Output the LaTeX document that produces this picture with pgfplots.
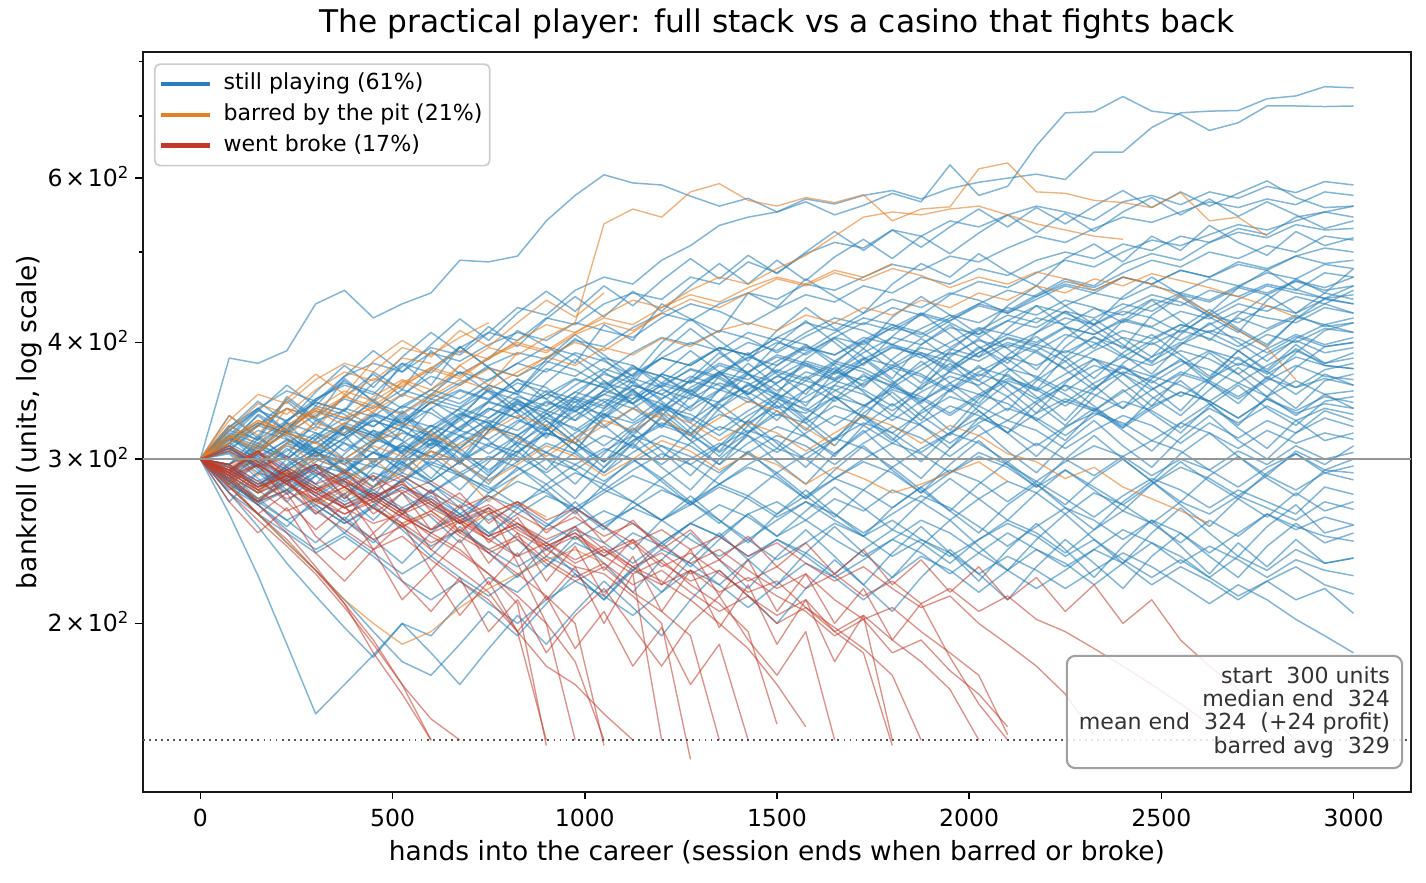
\documentclass[border=0pt]{standalone}
\usepackage{pgfplots}
\pgfplotsset{compat=1.18}
\usepackage{fontspec}
\setmainfont{DejaVu Sans}

\definecolor{cblue}{HTML}{2980B9}
\definecolor{corange}{HTML}{E67E22}
\definecolor{cred}{HTML}{C0392B}
\definecolor{boxedge}{RGB}{160,160,160}
\definecolor{legedge}{RGB}{204,204,204}
\definecolor{annot}{RGB}{51,51,51}

% one bankroll path, values every 75 hands starting at hand 0
\newcommand\walk[2]{%
  \gdef\pts{}%
  \foreach \v [count=\i from 0] in {#2}{%
    \pgfmathtruncatemacro\xx{75*\i}%
    \xdef\pts{\pts(\xx,\v)}%
  }%
  \edef\doplot{\noexpand\addplot[\unexpanded{#1}] coordinates {\pts};}%
  \doplot
}
\newcommand\tlab[1]{#1\kern0.12em×\kern0.12em10\textsuperscript{2}}

\pgfplotsset{
  bl/.style={forget plot, cblue, draw opacity=0.58, line width=0.72pt, line join=round},
  or/.style={forget plot, corange, draw opacity=0.6, line width=0.65pt, line join=round},
  rd/.style={forget plot, cred, draw opacity=0.55, line width=0.65pt, line join=round},
}

\begin{document}
\begin{tikzpicture}
\useasboundingbox (-68.5pt,-43.3pt) rectangle (616pt,380.1pt);
\begin{axis}[
  at={(0pt,0pt)}, anchor=south west,
  scale only axis, width=608.9pt, height=355.1pt,
  xmin=-150, xmax=3150,
  ymode=log, ymin=132, ymax=819,
  xtick={0,500,1000,1500,2000,2500,3000},
  ytick={200,300,400,600},
  yticklabels={\tlab{2},\tlab{3},\tlab{4},\tlab{6}},
  minor ytick={500,700,800},
  tick pos=left, tick align=outside,
  major tick length=3.5pt, minor tick length=2pt,
  every tick/.style={black, line width=0.8pt},
  axis line style={black!90, line width=0.9pt},
  tick label style={font=\fontsize{11.3}{13.5}\selectfont, /pgf/number format/assume math mode=true},
  xticklabel style={anchor=base, yshift=-13pt, /pgf/number format/1000 sep={}},
  yticklabel style={anchor=base east, inner sep=0pt, xshift=-2.7pt, yshift=-4pt},
  title={The practical player: full stack vs a casino that fights back},
  title style={at={(axis description cs:0.5,1)}, anchor=base, yshift=3.4pt, font=\fontsize{15}{18}\selectfont},
  xlabel={hands into the career (session ends when barred or broke)},
  xlabel style={at={(axis description cs:0.5,0)}, anchor=base, yshift=-32.8pt, font=\fontsize{12.7}{15}\selectfont},
  ylabel={bankroll (units, log scale)},
  ylabel style={at={(axis description cs:-0.0841,0.5)}, anchor=base, font=\fontsize{12.7}{15}\selectfont},
  legend cell align=left,
  legend image code/.code={\draw[#1] (0pt,0pt) -- (23.5pt,0pt);},
  legend style={at={(axis description cs:0,1)}, anchor=north west, xshift=5.4pt, yshift=-5.4pt,
    draw=legedge, line width=0.8pt, rounded corners=2.5pt, fill=white, fill opacity=0.8, text opacity=1,
    font=\fontsize{10.6}{12.7}\selectfont, row sep=1.4pt, inner xsep=2pt, inner ysep=3pt,
    nodes={inner sep=1.5pt, text height=7.9pt, text depth=2.4pt},
    /tikz/every odd column/.append style={column sep=4pt}},
]
\addlegendimage{cblue, line width=2pt}
\addlegendentry{still playing (61\%)}
\addlegendimage{corange, line width=2pt}
\addlegendentry{barred by the pit (21\%)}
\addlegendimage{cred, line width=2pt}
\addlegendentry{went broke (17\%)}

% ---- still playing ----
\walk{bl}{300,385,380,392,440,455,425,440,452,490,
488,495,540,575,605,593,590,574,560,571,
552,566,548,561,578,566,620,575,588,650,
705,707,734,708,702,675,688,717,717,716,717}
\walk{bl}{300,312,335,322,348,360,352,377,395,388,
410,436,428,455,470,462,490,508,534,545,
552,570,563,575,582,570,585,594,600,606,
598,640,640,680,705,708,709,730,735,752,750}
\walk{bl}{300,318,305,330,345,338,362,380,371,395,
410,402,425,418,440,452,445,470,462,488,
475,498,512,505,528,520,540,532,548,560,
552,541,566,575,562,580,571,588,579,595,590}
\walk{bl}{300,290,305,322,315,340,333,352,368,360,
378,390,384,402,396,415,430,422,440,452,
445,462,455,470,485,478,495,488,505,520,
512,530,545,538,552,566,558,570,562,580,575}
\walk{bl}{300,315,328,320,342,335,318,330,348,341,
360,352,375,368,385,378,362,380,395,388,
405,398,382,400,415,408,425,440,432,450,
468,460,485,498,490,512,530,522,545,552,560}
\walk{bl}{300,282,270,278,262,275,290,283,300,318,
310,328,345,337,355,348,370,362,385,400,
392,410,425,418,436,428,450,465,458,475,
490,482,500,515,508,522,535,528,540,552,545}
\walk{bl}{300,325,340,355,346,368,380,372,390,382,
398,410,402,420,412,405,425,440,432,418,
435,450,442,460,452,470,462,480,472,490,
500,492,510,502,520,512,525,518,535,528,530}
\walk{bl}{300,308,295,312,325,318,335,328,345,356,
348,365,358,340,355,370,385,378,395,388,
372,390,405,398,415,430,422,440,455,448,
465,458,475,490,482,500,492,508,500,520,515}
\walk{bl}{300,292,308,300,318,332,325,342,336,322,
338,355,348,365,358,375,368,352,370,385,
400,392,410,425,418,405,422,438,430,445,
460,452,470,462,478,470,488,480,495,505,500}
\walk{bl}{300,318,310,295,308,325,318,305,322,340,
332,350,342,360,375,366,385,378,395,388,
405,420,412,430,445,436,452,444,430,448,
462,455,470,462,478,470,485,478,495,486,490}
\walk{bl}{300,286,298,312,305,290,305,320,314,330,
345,338,355,348,332,348,362,355,372,386,
378,395,388,402,418,410,395,412,428,420,
438,452,445,460,452,468,460,475,468,485,480}
\walk{bl}{300,310,326,318,305,320,336,328,345,338,
322,338,352,345,362,355,340,358,372,365,
382,396,388,405,398,385,400,415,408,425,
418,435,428,445,438,455,448,462,455,475,470}
\walk{bl}{300,295,282,294,308,300,285,300,315,308,
325,318,335,350,342,360,352,338,355,370,
362,380,372,390,405,398,415,408,422,415,
432,425,440,432,450,442,458,450,465,455,460}
\walk{bl}{300,322,315,330,345,338,325,342,356,348,
365,380,372,390,382,368,385,400,392,410,
402,388,405,420,412,428,420,405,422,438,
430,418,435,450,442,428,445,460,452,446,450}
\walk{bl}{300,305,290,275,288,300,294,310,302,318,
330,322,338,330,345,360,352,368,360,345,
362,378,370,385,378,395,388,402,395,410,
425,418,432,425,410,428,420,438,430,445,440}
\walk{bl}{300,288,300,315,308,324,316,332,325,340,
355,347,332,348,340,356,370,362,378,370,
355,372,365,380,395,388,372,390,405,398,
415,408,422,415,402,418,432,425,420,436,430}
\walk{bl}{300,315,305,292,305,296,312,325,318,335,
328,312,326,342,335,320,338,352,345,360,
374,366,382,375,362,378,394,386,400,392,
408,400,386,402,418,410,425,414,428,416,420}
\walk{bl}{300,278,290,284,298,312,305,292,308,322,
315,330,322,338,352,344,360,353,340,356,
372,364,380,372,358,374,390,382,398,390,
375,392,405,398,412,404,392,408,400,414,410}
\walk{bl}{300,312,326,340,332,318,334,325,340,355,
347,362,354,338,352,366,358,375,368,352,
368,382,374,360,376,390,382,368,384,398,
390,405,396,382,398,412,404,390,406,396,400}
\walk{bl}{300,296,310,302,288,300,315,308,296,312,
326,318,305,320,335,328,342,335,322,338,
352,345,360,352,338,354,368,360,375,368,
355,372,386,378,392,384,370,388,402,390,395}
\walk{bl}{300,285,272,284,296,290,305,298,284,298,
312,305,320,312,298,314,328,320,335,328,
342,336,350,343,330,346,360,352,366,358,
345,362,376,368,382,374,362,378,392,380,385}
\walk{bl}{300,320,312,300,315,328,320,306,322,336,
328,344,336,322,338,352,344,330,346,360,
352,338,355,368,360,346,362,376,368,355,
370,384,376,362,378,392,384,370,386,378,375}
\walk{bl}{300,292,280,292,305,298,285,298,312,305,
292,306,320,312,298,314,326,318,305,320,
335,328,342,334,320,336,350,342,330,346,
360,352,340,356,370,362,348,364,378,368,365}
\walk{bl}{300,308,322,315,302,316,330,322,310,325,
340,332,318,334,348,340,326,342,356,348,
334,350,364,356,342,358,372,364,350,366,
352,338,354,368,360,346,362,350,364,352,355}
\walk{bl}{300,290,302,314,306,292,305,296,284,298,
310,302,290,305,318,310,296,312,325,318,
305,320,334,326,312,328,342,334,320,336,
348,340,326,342,354,346,332,348,338,350,345}
\walk{bl}{300,312,300,288,300,292,280,294,306,298,
285,298,312,304,290,305,318,310,296,312,
325,317,304,320,334,326,312,328,340,332,
318,334,346,338,324,340,328,342,330,340,335}
\walk{bl}{300,280,268,278,290,284,272,285,298,290,
278,292,305,296,284,298,310,302,290,305,
318,310,296,312,325,316,302,318,330,322,
308,322,334,326,312,328,316,330,320,332,325}
\walk{bl}{300,306,294,282,294,286,298,310,302,288,
300,312,305,292,306,318,310,296,310,322,
314,300,315,328,320,305,320,332,324,310,
325,336,328,314,328,320,308,322,312,320,315}
\walk{bl}{300,288,276,286,274,285,296,288,276,290,
302,294,282,296,308,300,286,300,312,304,
290,304,316,308,294,308,320,312,298,312,
300,288,302,314,306,292,306,296,310,300,305}
\walk{bl}{300,310,298,286,296,284,272,284,296,288,
276,288,300,292,278,292,304,296,282,296,
308,300,286,300,312,304,290,305,296,284,
298,310,302,288,300,292,280,294,304,290,295}
\walk{bl}{300,282,270,258,268,256,268,280,272,260,
272,284,276,264,276,288,280,268,282,294,
286,272,286,298,290,276,290,302,294,280,
292,280,268,282,294,286,274,288,278,290,285}
\walk{bl}{300,294,280,290,278,266,276,264,252,262,
274,266,254,266,278,270,258,270,282,274,
262,274,286,278,266,280,292,284,270,284,
272,260,274,286,278,266,278,270,262,280,275}
\walk{bl}{300,262,225,190,160,172,185,200,194,210,
224,216,230,244,236,250,242,256,248,262,
270,258,272,264,278,270,258,272,284,276,
262,276,268,256,270,262,274,266,258,270,265}
\walk{bl}{300,284,268,252,240,250,238,226,236,224,
214,225,236,228,216,228,240,232,220,234,
246,238,226,240,252,244,232,246,258,250,
238,252,264,256,244,258,248,262,252,260,255}
\walk{bl}{300,290,304,292,278,288,276,264,274,262,
250,262,274,266,254,266,278,270,258,246,
258,270,262,250,262,274,266,254,242,254,
266,258,246,258,250,238,250,262,254,248,245}
\walk{bl}{300,276,262,250,238,248,236,222,212,222,
210,200,212,222,214,204,216,228,220,208,
220,232,224,212,224,236,228,216,228,240,
232,220,232,244,236,224,236,228,240,232,235}
\walk{bl}{300,308,296,284,294,282,270,280,268,256,
266,254,244,254,264,256,244,256,268,260,
248,258,246,236,246,258,250,238,250,240,
230,240,252,244,232,242,234,224,234,228,225}
\walk{bl}{300,286,272,282,268,256,266,254,242,252,
240,230,240,252,244,232,244,256,248,236,
246,236,224,234,246,238,226,238,228,218,
228,240,232,220,230,222,212,222,230,220,215}
\walk{bl}{300,294,282,292,280,268,278,266,276,288,
280,268,278,290,282,270,258,268,280,272,
260,270,258,248,258,246,236,246,256,248,
236,246,234,224,234,224,214,222,212,218,205}
\walk{bl}{300,322,338,330,348,362,354,340,356,372,
364,380,396,388,372,390,405,398,412,404,
390,406,420,412,398,414,428,420,436,428,
444,436,420,438,452,444,460,452,466,458,470}
\walk{bl}{300,296,312,328,320,306,322,314,300,316,
332,346,338,354,346,330,348,364,356,372,
388,380,366,384,398,390,376,394,408,400,
416,408,424,416,432,424,440,432,448,440,455}
\walk{bl}{300,316,308,324,338,330,345,336,352,344,
360,352,338,354,370,362,348,364,380,372,
386,378,364,380,396,388,374,390,404,396,
382,398,412,404,418,410,396,412,426,418,425}
\walk{bl}{300,284,296,310,302,316,330,322,308,324,
340,332,346,338,324,340,356,348,362,354,
340,356,372,364,378,370,356,372,386,378,
392,384,370,386,400,392,378,394,408,398,405}
\walk{bl}{300,308,294,306,320,312,298,312,326,318,
304,318,332,324,310,326,340,332,318,334,
348,340,326,342,356,348,334,350,364,356,
342,358,372,364,350,366,380,372,358,374,380}
\walk{bl}{300,292,306,320,312,326,318,304,318,332,
346,338,352,366,358,344,360,374,366,352,
368,360,346,362,376,368,354,370,362,348,
364,378,370,356,372,364,350,366,358,366,360}
\walk{bl}{300,314,328,320,334,348,340,356,348,362,
376,368,382,374,360,376,368,354,370,362,
348,364,356,342,358,350,336,352,344,330,
346,338,324,340,354,346,332,348,336,344,340}
\walk{bl}{300,296,284,294,282,270,280,290,282,270,
258,268,256,246,256,266,258,246,236,246,
234,244,256,248,236,246,238,226,236,228,
218,228,238,230,220,210,220,212,202,194,186}
\walk{bl}{300,326,314,348,330,338,372,356,392,370,
384,412,396,380,418,402,440,424,410,452,
436,468,448,430,462,486,470,498,476,460,
492,510,488,520,502,534,512,496,526,508,518}
\walk{bl}{300,288,316,302,330,318,296,324,346,332,
358,340,322,350,372,356,338,366,390,370,
352,384,404,386,366,398,418,396,380,410,
432,412,394,428,448,426,410,444,468,452,480}
\walk{bl}{300,318,298,282,306,326,312,338,318,300,
326,348,330,312,340,364,346,328,356,380,
360,342,372,394,374,356,386,404,384,366,
396,418,398,380,408,430,412,396,424,446,440}
\walk{bl}{300,284,304,322,306,290,314,336,316,298,
322,344,324,306,334,356,336,318,346,370,
350,330,360,384,364,344,374,396,376,356,
386,406,388,370,398,420,400,382,404,418,410}
\walk{bl}{300,312,334,316,300,324,308,290,312,332,
314,298,322,346,326,308,334,356,338,320,
346,368,350,332,360,382,362,344,372,392,
374,356,380,400,384,366,392,374,398,380,390}
\walk{bl}{300,292,276,296,314,296,280,302,322,304,
288,310,330,312,294,318,340,320,302,326,
346,328,310,336,354,334,318,342,362,344,
326,350,370,350,334,356,376,358,340,364,370}
\walk{bl}{300,318,302,286,306,290,274,296,316,298,
282,304,324,306,290,312,332,314,296,320,
338,318,302,326,344,326,308,332,350,330,
314,338,356,336,320,342,360,340,326,346,350}
\walk{bl}{300,286,270,290,274,258,280,298,282,266,
288,306,288,272,294,312,294,278,300,318,
298,282,304,322,302,286,308,326,306,290,
312,330,310,294,316,334,314,300,320,338,330}
\walk{bl}{300,310,294,278,296,280,266,286,270,256,
276,294,278,262,282,300,284,268,288,306,
288,272,292,310,292,276,296,314,296,280,
300,318,300,284,304,320,302,288,306,296,310}
\walk{bl}{300,284,268,254,272,258,244,262,278,262,
248,266,282,266,252,270,286,270,256,274,
290,274,260,278,294,278,264,282,298,282,
268,286,300,284,270,288,302,286,274,292,290}
\walk{bl}{300,290,272,258,244,260,246,232,250,266,
250,236,254,270,254,240,258,274,258,244,
262,278,262,248,266,280,264,250,268,282,
266,252,270,284,268,254,272,260,276,264,270}
\walk{bl}{300,276,254,232,214,198,184,200,186,172,
188,204,190,206,222,208,194,212,228,214,
200,218,234,220,206,224,240,226,212,230,
246,232,218,236,250,236,224,242,256,244,250}
\walk{bl}{300,282,262,244,228,212,196,182,176,190,
206,194,210,226,212,228,244,230,246,262,
248,264,280,266,252,270,286,272,258,276,
292,278,264,282,298,284,272,290,304,292,300}
\walk{bl}{300,334,316,350,332,366,346,380,360,396,
376,354,384,408,388,368,400,424,402,382,
412,436,414,394,426,448,428,408,438,460,
438,418,448,470,450,430,458,478,456,446,460}
\walk{bl}{300,270,290,308,292,314,332,314,340,322,
346,366,348,330,356,378,358,340,368,390,
370,352,380,402,382,362,392,414,394,374,
404,424,404,386,414,434,414,398,424,440,430}
\walk{bl}{300,322,340,322,346,364,346,326,352,372,
354,336,362,384,364,344,370,392,372,352,
378,398,378,358,384,404,384,364,388,406,
386,366,390,408,388,368,392,372,394,378,375}
\walk{bl}{300,296,318,300,282,304,322,304,286,308,
328,310,292,316,336,318,300,324,344,326,
308,332,350,332,314,338,356,338,320,344,
360,342,324,348,364,344,326,350,334,352,340}
\walk{bl}{300,304,286,270,288,272,294,312,294,278,
298,318,300,282,304,324,306,288,310,330,
312,294,316,334,316,298,320,338,320,302,
324,340,322,306,328,344,324,308,330,314,320}
\walk{bl}{300,324,346,328,354,378,358,386,410,390,
416,396,424,448,426,454,432,460,486,462,
490,466,494,516,492,520,498,524,548,524,
550,526,552,572,548,570,546,566,548,530,540}
\walk{bl}{300,316,338,360,342,368,392,372,398,424,
402,430,454,432,460,438,466,492,468,496,
474,500,526,502,528,506,532,556,532,558,
536,560,582,558,580,560,578,596,572,558,560}
\walk{bl}{300,288,270,284,266,250,268,252,236,254,
238,224,242,226,212,230,216,234,250,234,
220,238,254,238,224,242,258,242,228,246,
262,246,232,250,266,250,236,254,268,250,255}
\walk{bl}{300,310,292,276,292,274,258,276,260,244,
262,246,230,248,232,216,234,250,234,218,
236,252,236,220,238,254,238,222,240,256,
240,224,242,258,242,226,244,230,246,232,235}
\walk{bl}{300,290,310,328,306,288,312,334,314,296,
322,346,324,306,332,354,334,314,340,362,
342,322,348,370,350,330,356,378,356,336,
362,384,362,342,368,390,370,350,376,396,400}
\walk{bl}{300,318,340,320,302,326,348,328,310,334,
356,336,316,342,364,344,324,350,372,350,
330,356,376,354,334,360,380,358,338,364,
382,360,340,366,384,362,344,368,352,370,360}
\walk{bl}{300,306,326,346,326,350,370,350,374,396,
376,354,380,404,384,362,390,414,392,370,
398,422,400,378,406,430,408,386,414,438,
416,394,422,444,422,402,428,450,430,452,445}
\walk{bl}{300,294,280,300,318,300,284,306,326,308,
290,314,336,316,298,322,344,324,306,330,
352,332,314,340,362,342,322,348,370,350,
330,356,378,358,338,364,386,366,390,412,420}

% ---- barred by the pit ----
\walk{or}{300,318,305,326,340,332,350,365,356,378,
395,388,405,420,536,556,545,580,592,568,
560,572,565,576,540,556,559,614,623,580,
578,568,565,558,579,540,545,520}
\walk{or}{300,312,328,318,336,350,342,360,374,366,
385,398,390,408,420,412,430,445,436,452,
468,460,475,466,480,472,458,470,462,476,
468,455,470,462,448,430,412,395,365}
\walk{or}{300,290,305,320,312,328,342,335,350,365,
356,372,386,378,395,388,404,396,412,420,
412,428,420,436,428,444,436,452,444,460,
452,468,460,474,466,458,448,438,426}
\walk{or}{300,288,276,290,304,296,310,302,318,310,
324,316,302,316,330,322,336,328,314,328,
320,306,320,334,326,312,326,318,304,298,
286,294,280,272,264,256}
\walk{or}{300,322,344,335,356,372,364,385,380}
\walk{or}{300,318,308,326,340,332,340}
\walk{or}{300,310,296,312,328,320,338,352,344,360,375,368,386,400,392,410,430}
\walk{or}{300,286,272,282,268,278,266,254,264,252,262,270,260}
\walk{or}{300,292,280,288,276,290}
\walk{or}{300,315,330,322,340,355,346,362,376,368,
386,400,392,410,425,418,436,450,442,458,
470,462,478,470,486}
\walk{or}{300,330,352,344,365,380,372,395,388,405,420}
\walk{or}{300,294,306,320,312,300,314,328,320,306,
320,334,326,312,326,340,332,318,332,346,
338,324,310}
\walk{or}{300,312,325,340,332,350,366,358,376,392,
384,402,418,410,428,444,436,455,470,462,
480,496,520,545,552,548,556,560,548,536,
528,520,516}
\walk{or}{300,282,262,244,228,212,200,190,196,208,218,226,234,240,232}
\walk{or}{300,290,278,288,300,292,280,292,306,298,
284,296,310,302,288,300,314,306,292,304,
296,282,294,286,276,282,290,298,284}
\walk{or}{300,316,330,322,338,326,314,320}
\walk{or}{300,326,310,340,322,352,336,364,350,378,360,390}
\walk{or}{300,306,288,312,296,280,300,284,306,290,270,288}
\walk{or}{300,334,318,348,370,352,382,402,386,412,396,420,444,426,452}

% ---- went broke ----
\walk{rd}{300,280,262,246,228,210,192,172,150}
\walk{rd}{300,290,278,264,272,258,246,254,240,228,216,196,150}
\walk{rd}{300,292,280,288,274,262,270,256,244,252,238,226,214,200,148}
\walk{rd}{300,288,276,284,270,262,272,260,250,258,
246,236,244,232,240,228,220,228,216,224,
214,206,194,202,186,192,178,168,155}
\walk{rd}{300,292,304,290,278,286,274,262,270,256,
246,254,240,230,226,214,200,143}
\walk{rd}{300,286,296,282,270,280,266,254,262,248,
238,246,232,222,230,216,206,194,150}
\walk{rd}{300,294,282,292,280,268,276,264,272,258,
248,256,242,250,236,226,234,220,210,196,156}
\walk{rd}{300,290,300,288,276,286,272,282,268,258,
266,252,242,250,238,246,232,222,228,214,
204,212,196,186,148}
\walk{rd}{300,308,296,284,292,280,270,278,266,256,
264,250,240,248,236,244,230,238,226,216,
222,208,198,188,176,150}
\walk{rd}{300,296,306,294,282,290,278,288,276,266,
274,262,252,260,248,256,242,232,240,228,
218,226,212,202,208,196,186,176,152}
\walk{rd}{300,284,270,278,264,252,240,248,234,222,212,196,180,172,160,150}
\walk{rd}{300,276,258,242,226,208,190,172,158,150}
\walk{rd}{300,296,284,272,280,266,256,262,248,238,226,214,200,182,150}
\walk{rd}{300,310,298,288,296,284,274,282,270,260,
268,256,246,254,240,230,222,212,200,188,172,155}
\walk{rd}{300,290,278,288,276,266,272,260,250,240,226,210,148}
\walk{rd}{300,292,280,288,276,266,274,262,252,260,
248,256,244,234,242,230,238,226,234,222,
230,218,226,214,222,210,218,206,214,202,
196,188,180,172,164,156}
\walk{rd}{300,306,294,302,290,280,288,276,284,272,
262,270,258,266,254,244,252,240,248,236,
244,232,222,230,218,208,214,200,190,180,
168,152}
\walk{rd}{300,288,296,282,272,280,266,256,264,250,
240,248,234,224,232,220,228,216,206,214,
200,208,196,204,192,182,170,150}
\walk{rd}{300,282,296,270,252,268,240,256,228,246,
220,238,212,230,200,226,150}
\walk{rd}{300,288,270,286,262,276,250,266,240,258,
232,250,222,242,214,236,206,228,198,220,
190,212,182,204,150}
\walk{rd}{300,296,278,292,270,284,262,276,252,268,
244,260,236,254,228,246,220,240,214,234,
206,226,200,218,192,210,184,164,150}
\walk{rd}{300,270,250,266,238,222,240,212,228,204,
222,196,214,188,206,180,198,172,190,150}
\walk{rd}{300,290,306,284,296,272,288,262,278,250,266,232,200,150}
\walk{rd}{300,280,262,276,248,234,250,222,206,224,
196,212,186,204,218,198,180,200,214,192,
176,196,150}
\walk{rd}{300,292,306,288,278,292,272,284,264,276,
256,270,250,264,244,258,240,252,234,248,
230,244,226,240,220,234,216,230,212,224,
206,220,200,212,192,180,170,160,150}
\walk{rd}{300,286,268,250,230,210,186,168,150}

% reference levels
\addplot[forget plot, color={rgb,255:red,150;green,150;blue,150}, line width=1pt] coordinates {(-150,300) (3150,300)};
\addplot[forget plot, color={rgb,255:red,85;green,85;blue,85}, line width=0.9pt, dash pattern=on 0.9pt off 2pt] coordinates {(-150,150) (3150,150)};

\node[anchor=south east, align=right, fill=white, fill opacity=0.85, text opacity=1,
  draw=boxedge, line width=1pt, rounded corners=4pt, inner xsep=5.8pt, inner ysep=5pt,
  text=annot, font=\fontsize{10.6}{11.2}\selectfont, xshift=-3.9pt, yshift=10.9pt]
  at (rel axis cs:1,0) {start\ \ 300 units\\median end\ \ 324\\mean end\ \ 324\ \ (+24 profit)\\barred avg\ \ 329};
\end{axis}
\end{tikzpicture}
\end{document}
